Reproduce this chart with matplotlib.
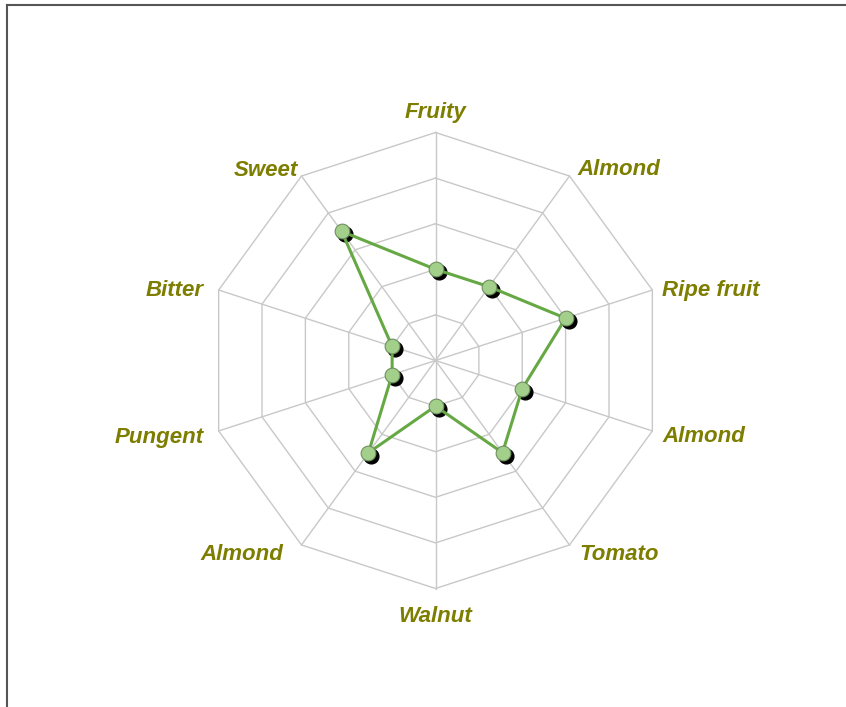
import numpy as np
import matplotlib
matplotlib.use('agg')
import matplotlib.pyplot as plt
import matplotlib.transforms as mtransforms
from matplotlib.lines import Line2D

# attributes, clockwise from the top
attributes = ['Fruity', 'Almond', 'Ripe fruit', 'Almond', 'Tomato',
              'Walnut', 'Almond', 'Pungent', 'Bitter', 'Sweet']
scores = [2, 2, 3, 2, 2.5, 1, 2.5, 1, 1, 3.5]
rings = [1, 2, 3, 4, 5]

# label nudges in pixels (dx, dy) and horizontal alignment, one per axis
label_offsets = [(0, 20), (8, 7), (10, 0), (10, -6), (10, -10),
                 (0, -28), (-18, -10), (-15, -7), (-15, 0), (-4, 6)]
label_align = ['center', 'left', 'left', 'left', 'left',
               'center', 'right', 'right', 'right', 'right']

W, H, DPI = 846, 707, 100
cx, cy = 435.5, 360.5      # centre in pixels
unit = 45.6                # pixels per score step

fig = plt.figure(figsize=(W / DPI, H / DPI), dpi=DPI)
ax = fig.add_axes([0, 0, 1, 1])
ax.set_xlim(-cx / unit, (W - cx) / unit)
ax.set_ylim(-(H - cy) / unit, cy / unit)
ax.axis('off')

n = len(attributes)
ang = np.arange(n) * 2 * np.pi / n
sx, sy = np.sin(ang), np.cos(ang)

# web
for r in rings:
    ax.plot(np.append(sx, sx[0]) * r, np.append(sy, sy[0]) * r,
            color='#c8c8c8', lw=1.0, zorder=1)
for i in range(n):
    ax.plot([0, sx[i] * rings[-1]], [0, sy[i] * rings[-1]],
            color='#c8c8c8', lw=1.0, zorder=1)

# data
vals = np.array(scores)
px, py = sx * vals, sy * vals
ax.plot(np.append(px, px[0]), np.append(py, py[0]),
        color='#66a844', lw=2.2, zorder=3)
shadow = mtransforms.offset_copy(ax.transData, fig=fig, x=3, y=-3, units='dots')
ax.plot(px, py, 'o', ms=10.6, color='black', mec='black', transform=shadow, zorder=2)
ax.plot(px, py, 'o', ms=10.6, color='#a2d08a', mec='#6f8f60', mew=0.8, zorder=4)

# labels
for i, name in enumerate(attributes):
    dx, dy = label_offsets[i]
    ax.annotate(name, (sx[i] * rings[-1], sy[i] * rings[-1]),
                xytext=(dx * 0.72, dy * 0.72), textcoords='offset points',
                ha=label_align[i], va='center', fontsize=16,
                fontfamily='Liberation Sans', fontweight='bold', fontstyle='italic',
                color='#7d7d00')

# frame (top and left edges only)
fig.add_artist(Line2D([7 / W, 1], [1 - 4.5 / H, 1 - 4.5 / H],
                      transform=fig.transFigure, color='#555555', lw=1.5))
fig.add_artist(Line2D([7 / W, 7 / W], [0, 1 - 4.5 / H],
                      transform=fig.transFigure, color='#555555', lw=1.5))

fig.savefig('out.png', dpi=DPI)
